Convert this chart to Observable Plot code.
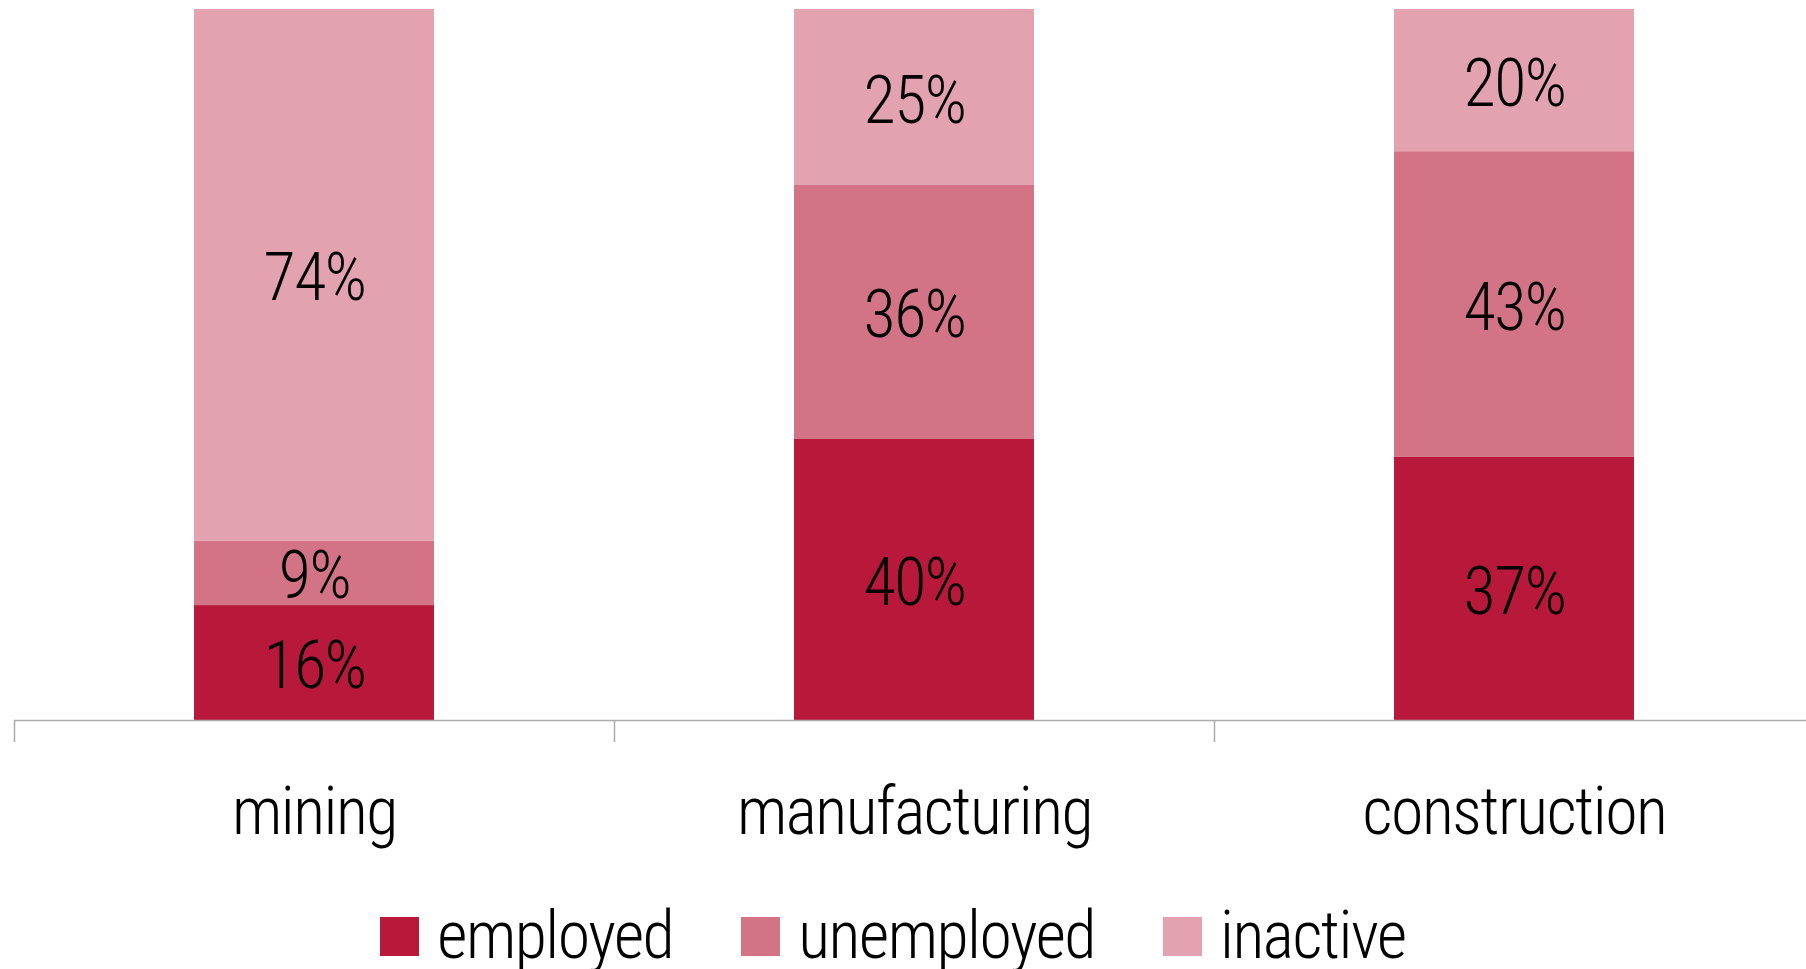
<!DOCTYPE html>
<html>
<head>
<meta charset="utf-8">
<script src="https://cdn.jsdelivr.net/npm/d3@7"></script>
<script src="https://cdn.jsdelivr.net/npm/@observablehq/plot@0.6"></script>
<style>
  html, body { margin: 0; padding: 0; background: #fff; }
  body { position: relative; width: 1806px; height: 969px; overflow: hidden; font-family: "Roboto Condensed", Roboto, sans-serif; font-weight: 300; }
  #legend { position: absolute; left: 0; top: 903px; width: 1786px; height: 66px; line-height: 66px; display: flex; justify-content: center; align-items: center; font-size: 66px; letter-spacing: -1.5px; color: #000; }
  .item { display: flex; align-items: center; margin: 0 34px; height: 66px; }
  .sw { width: 39px; height: 39px; margin-right: 18px; }
  svg text { letter-spacing: -1.5px; }
</style>
</head>
<body>
<div id="chart"></div>
<div id="legend"></div>
<script>
const categories = ["mining", "manufacturing", "construction"];
const statuses = ["employed", "unemployed", "inactive"];
const employed = [16, 40, 37];
const unemployed = [9, 36, 43];
const inactive = [74, 25, 20];
const colors = ["#b8193a", "#d37486", "#e3a2af"];

const series = [employed, unemployed, inactive];
const rows = [];
categories.forEach((c, i) => {
  statuses.forEach((s, j) => rows.push({category: c, status: s, value: series[j][i]}));
});

const chart = Plot.plot({
  width: 1806,
  height: 870,
  marginTop: 9,
  marginBottom: 150,
  marginLeft: 14,
  marginRight: -8,
  style: {fontFamily: "'Roboto Condensed', Roboto, sans-serif", fontWeight: 300, fontSize: "66px", background: "#fff"},
  x: {domain: categories, paddingInner: 0.6, paddingOuter: 0.3, label: null},
  y: {axis: null},
  color: {domain: statuses, range: colors},
  marks: [
    Plot.barY(rows, Plot.stackY({offset: "normalize", x: "category", y: "value", fill: "status"})),
    Plot.text(rows, Plot.stackY({offset: "normalize", x: "category", y: "value", text: d => d.value + "%", fill: "#000", dy: 4, fontSize: 66})),
    Plot.ruleY([0], {stroke: "#ababab", strokeWidth: 1.5}),
    Plot.ruleX(categories, {x: d => d, y1: 0, y2: 0, insetBottom: -22, dx: -300, stroke: "#ababab", strokeWidth: 1.5}),
    Plot.axisX({tickSize: 0, tickPadding: 67, fontSize: 66, fill: "#000", label: null})
  ]
});
document.getElementById("chart").appendChild(chart);

const legend = document.getElementById("legend");
statuses.forEach((s, j) => {
  const it = document.createElement("div");
  it.className = "item";
  const sw = document.createElement("div");
  sw.className = "sw";
  sw.style.background = colors[j];
  const tx = document.createElement("span");
  tx.textContent = s;
  it.appendChild(sw);
  it.appendChild(tx);
  legend.appendChild(it);
});
</script>
</body>
</html>
